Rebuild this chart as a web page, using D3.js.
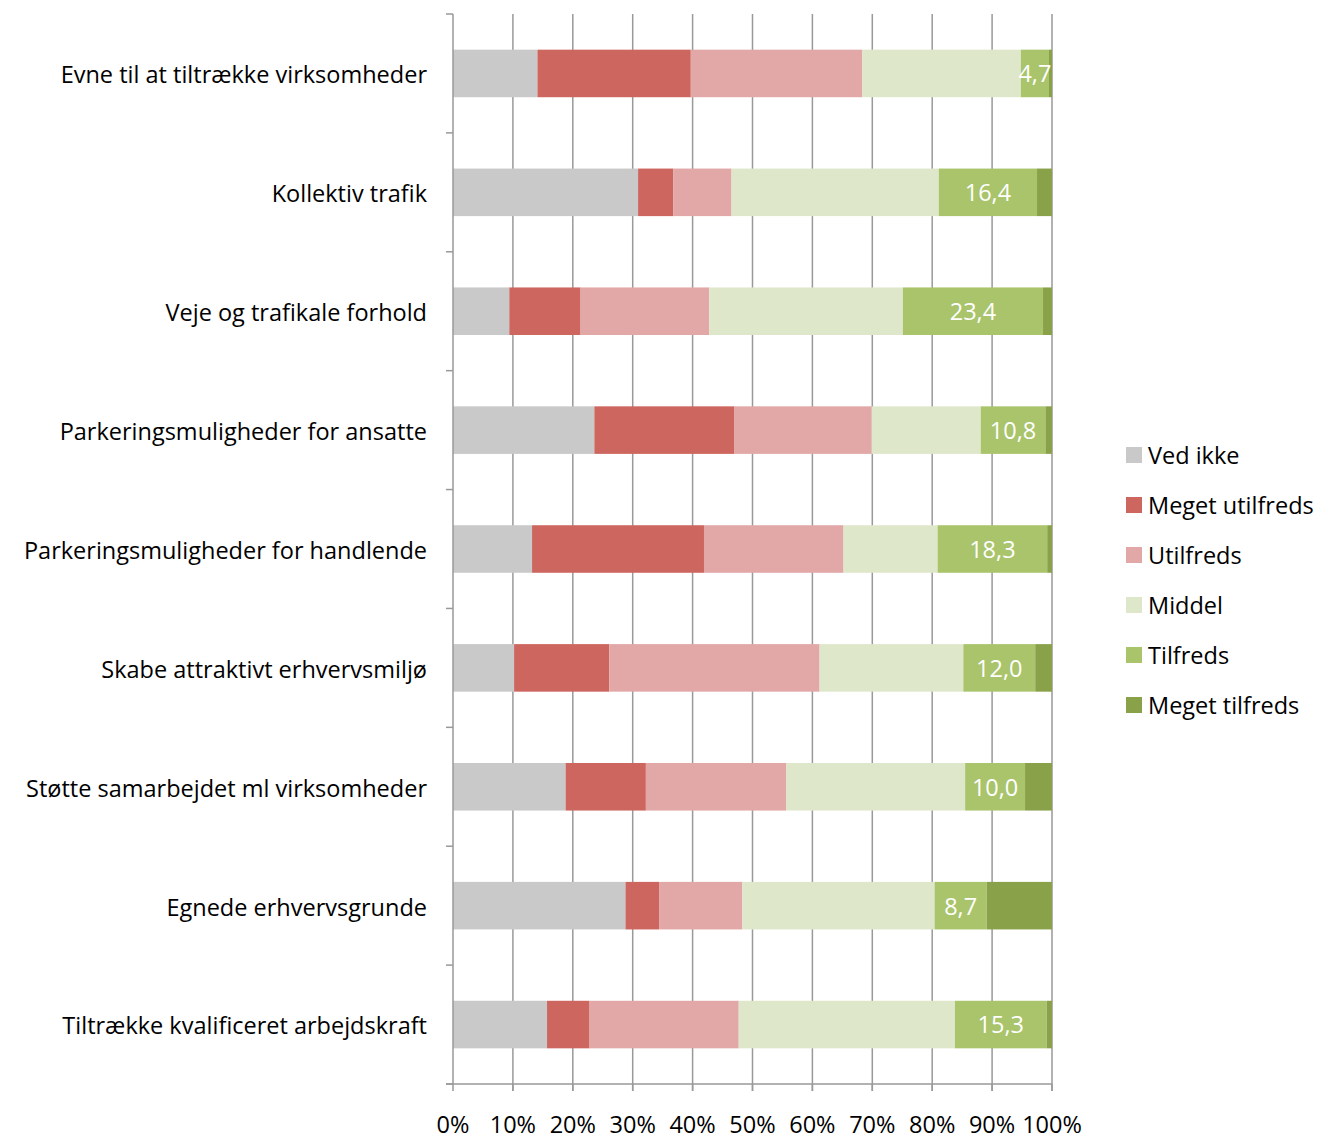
<!DOCTYPE html>
<html>
<head>
<meta charset="utf-8">
<script src="https://cdn.jsdelivr.net/npm/d3@7"></script>
<style>
  body { margin: 0; background: #fff; }
  text { font-family: "Open Sans", sans-serif; }
</style>
</head>
<body>
<svg id="chart" width="1322" height="1141"></svg>
<script>
// categories, top to bottom
var categories = [
  "Evne til at tiltrække virksomheder",
  "Kollektiv trafik",
  "Veje og trafikale forhold",
  "Parkeringsmuligheder for ansatte",
  "Parkeringsmuligheder for handlende",
  "Skabe attraktivt erhvervsmiljø",
  "Støtte samarbejdet ml virksomheder",
  "Egnede erhvervsgrunde",
  "Tiltrække kvalificeret arbejdskraft"
];

var seriesNames = ["Ved ikke", "Meget utilfreds", "Utilfreds", "Middel", "Tilfreds", "Meget tilfreds"];
var seriesColors = ["#c9c9c9", "#cd665f", "#e2a8a7", "#dfe7cb", "#a9c46b", "#89a24a"];

// percentages per series (same order as categories)
var vedIkke        = [14.1, 30.9,  9.4, 23.6, 13.2, 10.2, 18.8, 28.8, 15.7];
var megetUtilfreds = [25.6,  5.9, 11.9, 23.4, 28.7, 15.9, 13.4,  5.6,  7.1];
var utilfreds      = [28.6,  9.7, 21.5, 22.9, 23.3, 35.1, 23.4, 13.9, 24.9];
var middel         = [26.5, 34.6, 32.3, 18.2, 15.7, 24.0, 29.9, 32.1, 36.1];
var tilfreds       = [ 4.7, 16.4, 23.4, 10.8, 18.3, 12.0, 10.0,  8.7, 15.3];
var megetTilfreds  = [ 0.5,  2.5,  1.5,  1.1,  0.8,  2.8,  4.5, 10.9,  0.9];

var xTicks = [0, 10, 20, 30, 40, 50, 60, 70, 80, 90, 100];

var allSeries = [vedIkke, megetUtilfreds, utilfreds, middel, tilfreds, megetTilfreds];

// table for the stack
var rows = categories.map(function(c, i) {
  var r = { cat: c };
  seriesNames.forEach(function(s, j) { r[s] = allSeries[j][i]; });
  return r;
});

var svg = d3.select("#chart");
var plotLeft = 453, plotRight = 1052, plotTop = 14, plotBottom = 1084;
var fontSize = 23.5;

var x = d3.scaleLinear().domain([0, 100]).range([plotLeft, plotRight]);
var y = d3.scaleBand().domain(categories).range([plotTop, plotBottom])
  .paddingInner(0.6).paddingOuter(0.3);

// gridlines
svg.append("g").selectAll("line")
  .data(xTicks.slice(1))
  .enter().append("line")
  .attr("x1", function(d) { return x(d); })
  .attr("x2", function(d) { return x(d); })
  .attr("y1", plotTop)
  .attr("y2", plotBottom + 7)
  .attr("stroke", "#999")
  .attr("stroke-width", 1.5);

// bars
var stacked = d3.stack().keys(seriesNames)(rows);

svg.append("g").selectAll("g")
  .data(stacked)
  .enter().append("g")
  .attr("fill", function(d, i) { return seriesColors[i]; })
  .selectAll("rect")
  .data(function(d) { return d; })
  .enter().append("rect")
  .attr("x", function(d) { return x(d[0]); })
  .attr("width", function(d) { return x(d[1]) - x(d[0]); })
  .attr("y", function(d) { return y(d.data.cat); })
  .attr("height", y.bandwidth());

// data labels on Tilfreds
svg.append("g").selectAll("text")
  .data(stacked[4])
  .enter().append("text")
  .attr("x", function(d) { return x((d[0] + d[1]) / 2); })
  .attr("y", function(d) { return y(d.data.cat) + y.bandwidth() / 2; })
  .attr("dy", "0.38em")
  .attr("text-anchor", "middle")
  .attr("fill", "#fff")
  .attr("font-size", fontSize)
  .text(function(d) { return d.data["Tilfreds"].toFixed(1).replace(".", ","); });

// left axis line and tick marks at category boundaries
var bounds = categories.map(function(c) { return y(c) - y.step() * 0.3; }).concat([plotBottom]);
svg.append("line")
  .attr("x1", plotLeft).attr("x2", plotLeft)
  .attr("y1", plotTop).attr("y2", plotBottom)
  .attr("stroke", "#999").attr("stroke-width", 1.5);
svg.append("g").selectAll("line")
  .data(bounds)
  .enter().append("line")
  .attr("x1", plotLeft - 7).attr("x2", plotLeft)
  .attr("y1", function(d) { return d; })
  .attr("y2", function(d) { return d; })
  .attr("stroke", "#999").attr("stroke-width", 1.5);

// bottom axis
svg.append("line")
  .attr("x1", plotLeft - 7).attr("x2", plotRight)
  .attr("y1", plotBottom).attr("y2", plotBottom)
  .attr("stroke", "#999").attr("stroke-width", 1.5);
svg.append("g").selectAll("line")
  .data(xTicks)
  .enter().append("line")
  .attr("x1", function(d) { return x(d); })
  .attr("x2", function(d) { return x(d); })
  .attr("y1", plotBottom).attr("y2", plotBottom + 7)
  .attr("stroke", "#999").attr("stroke-width", 1.5);

svg.append("g").selectAll("text")
  .data(xTicks)
  .enter().append("text")
  .attr("x", function(d) { return x(d); })
  .attr("y", 1133)
  .attr("font-size", fontSize)
  .attr("text-anchor", "middle")
  .attr("fill", "#000")
  .text(function(d) { return d + "%"; });

// category labels
svg.append("g").selectAll("text")
  .data(categories)
  .enter().append("text")
  .attr("x", 427)
  .attr("y", function(d) { return y(d) + y.bandwidth() / 2; })
  .attr("dy", "0.42em")
  .attr("text-anchor", "end")
  .attr("font-size", fontSize)
  .attr("fill", "#000")
  .text(function(d) { return d; });

// legend
var legend = svg.append("g").selectAll("g")
  .data(seriesNames)
  .enter().append("g")
  .attr("transform", function(d, i) { return "translate(1126," + (455 + i * 50) + ")"; });
legend.append("rect")
  .attr("x", 0).attr("y", -8)
  .attr("width", 16).attr("height", 16)
  .attr("fill", function(d, i) { return seriesColors[i]; });
legend.append("text")
  .attr("x", 22).attr("y", 0)
  .attr("dy", "0.38em")
  .attr("font-size", fontSize)
  .attr("fill", "#000")
  .text(function(d) { return d; });
</script>
</body>
</html>
